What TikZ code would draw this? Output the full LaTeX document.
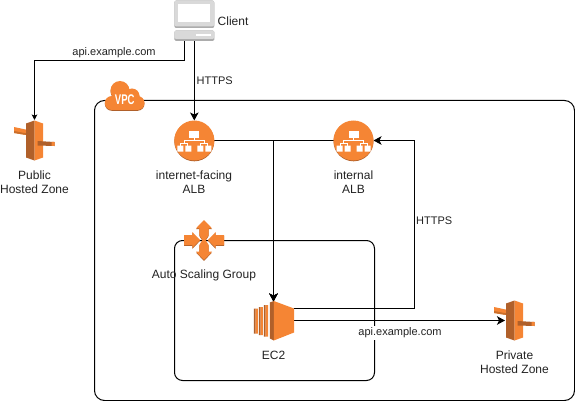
\documentclass[tikz,border=0pt]{standalone}
\usepackage{fontspec}
\setmainfont{Liberation Sans}
\usetikzlibrary{arrows.meta}
\definecolor{awsor}{HTML}{F58534}
\definecolor{awsdk}{HTML}{B0602A}
\definecolor{awssh}{HTML}{C96F2C}
\definecolor{txt}{HTML}{222222}
\tikzset{
  x=1pt,y=-1pt,
  boxline/.style={draw=black,line width=1pt,fill=none,outer sep=0pt},
  iconbox/.style={minimum width=40pt,minimum height=40pt,inner sep=0pt,outer sep=0pt},
  lab/.style={font=\fontsize{12}{14}\selectfont,text=txt,inner sep=0pt,align=center},
  elab/.style={lab,font=\fontsize{11}{14}\selectfont},
  wlab/.style={elab,fill=white,inner xsep=1pt,inner ysep=1.5pt},
  conn/.style={draw=black,line width=1pt,-{Stealth[length=8pt,width=8.5pt,inset=2pt]}},
  thinconn/.style={draw=black,line width=1pt,-{Stealth[length=5.5pt,width=5.5pt,inset=1.2pt]}},
  dblconn/.style={conn,line width=1.25pt},
  zoneicon/.pic={
    \fill[awsor] (-20.5,-13.5) -- (-2,-9.5) -- (-2,-4.5) -- (-20.5,-7.5) -- cycle;
    \fill[awssh] (-20.5,-7.5) -- (-2,-4.5) -- (-2,-6) -- (-20.5,-9.5) -- cycle;
    \fill[awsdk] (-8.5,-17) -- (0,-20) -- (0,20) -- (-8.5,17) -- cycle;
    \fill[awsor] (8.5,-17) -- (0,-20) -- (0,20) -- (8.5,17) -- cycle;
    \fill[awsdk] (3,0.5) -- (20,1.5) -- (20,5.5) -- (3,5) -- cycle;
    \fill[awsor] (17,1.3) -- (20,1.5) -- (20,5.5) -- (17,5.4) -- cycle;
  },
  albicon/.pic={
    \fill[awsdk] (0,0.8) circle[radius=20];
    \fill[awsor] (0,0) circle[radius=20];
    \fill[white] (-5,-10) rectangle (5,-3);
    \draw[white,line width=.8pt] (0,-3) -- (0,0) (-10,3) -- (-10,0) -- (10,0) -- (10,3)
      (-13.5,5) -- (-13.5,3) -- (-6.5,3) -- (-6.5,5) (6.5,5) -- (6.5,3) -- (13.5,3) -- (13.5,5);
    \fill[white] (-17,5) rectangle (-11,11) (-9,5) rectangle (-3,11)
      (3,5) rectangle (9,11) (11,5) rectangle (17,11);
  },
  ec2icon/.pic={
    \fill[awsdk] (-19.7,-12) rectangle (-18,13) (-14.7,-13.5) rectangle (-13,14.5) (-9.7,-15.5) rectangle (-8,16);
    \fill[awsor] (-18,-12) rectangle (-15.7,13) (-13,-13.5) rectangle (-10.7,14.5) (-8,-15.5) rectangle (-5.5,16);
    \fill[awsdk] (-3.7,-18) -- (0.3,-19.5) -- (0.3,20) -- (-3.7,18) -- cycle;
    \fill[awsor] (0.3,-19.5) -- (20.5,-12) -- (20.5,12) -- (0.3,20) -- cycle;
  },
  asgshape/.pic={
    \fill (0,-20) -- (8,-11.7) -- (4.7,-11.7) -- (4.7,-5) -- (1.5,0) -- (4.7,5) -- (4.7,11.7) -- (8,11.7)
      -- (0,20) -- (-8,11.7) -- (-4.7,11.7) -- (-4.7,5) -- (-1.5,0) -- (-4.7,-5) -- (-4.7,-11.7) -- (-8,-11.7) -- cycle;
    \fill (-20,-5) -- (-11.7,-5) -- (-11.7,-8) -- (-4,0) -- (-11.7,8) -- (-11.7,5) -- (-20,5) -- cycle;
    \fill (20,-5) -- (11.7,-5) -- (11.7,-8) -- (4,0) -- (11.7,8) -- (11.7,5) -- (20,5) -- cycle;
  },
  cloudshape/.pic={
    \fill (15,9.5) circle[radius=9.5];
    \fill (27,15) circle[radius=7.5];
    \fill (6.8,22) circle[radius=7];
    \fill (32.5,22) circle[radius=7];
    \fill (6.8,15) rectangle (32.5,29);
  },
  clienticon/.pic={
    \fill[gray!65,rounded corners=2pt] (-20,-20) rectangle (20,7.5);
    \fill[gray!30,rounded corners=2.5pt] (-20,-20) rectangle (20,6);
    \fill[white] (-16.7,-16.3) rectangle (15.8,1.5);
    \fill[gray!65,rounded corners=1.5pt] (-20,10) rectangle (20,20.5);
    \fill[gray!30,rounded corners=1.5pt] (-20,10) rectangle (20,18.5);
    \fill[white] (2,13.3) rectangle (16.5,15.3);
  },
}
\begin{document}
\begin{tikzpicture}
\useasboundingbox (0,0) rectangle (575,401);
% containers
\node[boxline,rounded corners=10pt,minimum width=480pt,minimum height=300pt,inner sep=0pt,anchor=north west] (vpc) at (94.5,100.5) {};
\node[boxline,rounded corners=8pt,minimum width=200pt,minimum height=140pt,inner sep=0pt,anchor=north west] (asg) at (174.5,240.5) {};
% icon holders
\node[iconbox] (client) at (194.3,20.5) {};
\node[iconbox] (pub) at (34.5,140.5) {};
\node[iconbox] (alba) at (194.3,140.5) {};
\node[iconbox] (albb) at (353.5,140.5) {};
\node[iconbox] (scale) at (204,240) {};
\node[iconbox] (ec2) at (273.5,320.5) {};
\node[iconbox] (priv) at (514.5,320.5) {};
\coordinate (clientl) at (184.5,40.5);
\coordinate (ec2hi) at (293.5,308.5);
\coordinate (turnh) at (414.5,140.5);
\coordinate (pubin) at (34.5,120);
\coordinate (privin) at (505,320.5);
\coordinate (ec2top) at (273.5,301.5);
% connectors
\draw[thinconn] (clientl) |- (34.5,60.5) -- (pubin);
\draw[conn] (client.south) -- (alba.north);
\draw[conn] (alba.east) -| (ec2top);
\draw[conn] (albb.west) -| (ec2top);
\draw[dblconn] (273.5,141) -- (ec2top);
\draw[conn] (ec2hi) -| (turnh) -- (albb.east);
\draw[conn] (ec2.east) -- (privin);
% icons
\pic at (client.center) {clienticon};
\pic at (pub.center) {zoneicon};
\pic at (priv.center) {zoneicon};
\pic at (alba.center) {albicon};
\pic at (albb.center) {albicon};
\pic at (ec2.center) {ec2icon};
\begin{scope}[shift={(scale.center)}]
\pic[awsdk] at (0,0.9) {asgshape};
\pic[awsor] at (0,0) {asgshape};
\end{scope}
\pic[awsdk] at (105,81.8) {cloudshape};
\pic[awsor] at (105,81) {cloudshape};
% labels
\node[text=white,inner sep=0pt,font=\fontsize{14}{14}\selectfont\bfseries] (vpclab) at (124.7,99.5) {\scalebox{0.68}[1]{VPC}};
\node[lab,anchor=west] (clientlab) at (217.5,21) {Client};
\node[wlab] (lab1) at (114,52.5) {api.example.com};
\node[elab,anchor=west] (lab2) at (196.5,81) {HTTPS};
\node[lab] (publab) at (34.5,182) {Public\\Hosted Zone};
\node[lab] (albalab) at (194,182) {internet-facing\\ALB};
\node[lab] (albblab) at (353.5,182) {internal\\ALB};
\node[lab] (asglab) at (204,275) {Auto Scaling Group};
\node[lab] (ec2lab) at (273.5,355) {EC2};
\node[elab,anchor=west] (lab3) at (416,221) {HTTPS};
\node[wlab] (lab4) at (400,333) {api.example.com};
\node[lab] (privlab) at (514.5,362) {Private\\Hosted Zone};
\end{tikzpicture}
\end{document}
